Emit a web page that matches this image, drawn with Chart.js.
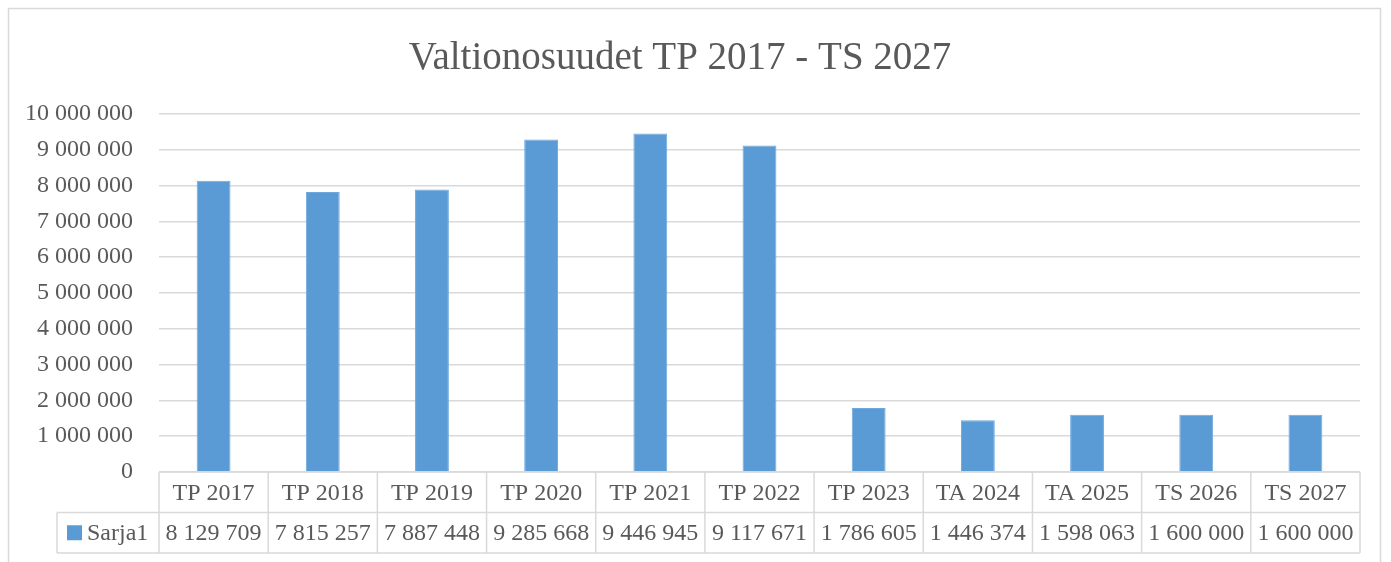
<!DOCTYPE html>
<html>
<head>
<meta charset="utf-8">
<script src="https://cdn.jsdelivr.net/npm/chart.js@4.4.1/dist/chart.umd.min.js"></script>
<style>
  html, body { margin: 0; padding: 0; background: #fff; }
  #wrap { position: absolute; left: 0; top: 0; width: 1391px; height: 562px; }
</style>
</head>
<body>
<div id="wrap"><canvas id="chart" width="1391" height="562"></canvas></div>
<script>
// Data
const categories = ['TP 2017', 'TP 2018', 'TP 2019', 'TP 2020', 'TP 2021', 'TP 2022',
                    'TP 2023', 'TA 2024', 'TA 2025', 'TS 2026', 'TS 2027'];
const seriesName = 'Sarja1';
const seriesValues = [8129709, 7815257, 7887448, 9285668, 9446945, 9117671,
                      1786605, 1446374, 1598063, 1600000, 1600000];
const yMax = 10000000;
const yStep = 1000000;

const textColor = '#595959';
const lineColor = '#d9d9d9';
const barColor = '#5b9bd5';
const fontFamily = '"Liberation Serif", "DejaVu Serif", serif';

// Numero välilyönnein: 8 129 709
function formatNumber(n) {
    return String(n).replace(/\B(?=(\d{3})+(?!\d))/g, ' ');
}

// Kehys + datataulukko kaavion alle
const dataTablePlugin = {
    id: 'dataTable',
    beforeDraw(chart) {
        const ctx = chart.ctx;
        ctx.save();
        ctx.strokeStyle = lineColor;
        ctx.lineWidth = 1.5;
        ctx.strokeRect(8.5, 8.5, 1372, 600);
        ctx.restore();
    },
    afterDraw(chart) {
        const ctx = chart.ctx;
        const area = chart.chartArea;
        const n = categories.length;
        const colW = (area.right - area.left) / n;
        const top = area.bottom;
        const rowH = 40.5;
        const legendLeft = 57;

        ctx.save();
        ctx.strokeStyle = lineColor;
        ctx.lineWidth = 1.5;

        // vaakaviivat
        ctx.beginPath();
        ctx.moveTo(area.left, top);
        ctx.lineTo(area.right, top);
        ctx.moveTo(legendLeft, top + rowH);
        ctx.lineTo(area.right, top + rowH);
        ctx.moveTo(legendLeft, top + 2 * rowH);
        ctx.lineTo(area.right, top + 2 * rowH);
        // pystyviivat
        for (let i = 0; i <= n; i++) {
            const x = area.left + i * colW;
            ctx.moveTo(x, top);
            ctx.lineTo(x, top + 2 * rowH);
        }
        ctx.moveTo(legendLeft, top + rowH);
        ctx.lineTo(legendLeft, top + 2 * rowH);
        ctx.stroke();

        // tekstit
        ctx.fillStyle = textColor;
        ctx.font = '24px ' + fontFamily;
        ctx.textAlign = 'center';
        ctx.textBaseline = 'middle';
        for (let i = 0; i < n; i++) {
            const cx = area.left + (i + 0.5) * colW;
            ctx.fillText(categories[i], cx, top + rowH / 2 + 1);
            ctx.fillText(formatNumber(seriesValues[i]), cx, top + rowH * 1.5 + 1);
        }

        // selite
        ctx.fillStyle = barColor;
        ctx.fillRect(legendLeft + 10, top + rowH * 1.5 - 7.5, 15, 15);
        ctx.fillStyle = textColor;
        ctx.textAlign = 'left';
        ctx.fillText(seriesName, legendLeft + 30, top + rowH * 1.5 + 1);
        ctx.restore();
    }
};

const ctx = document.getElementById('chart').getContext('2d');
new Chart(ctx, {
    type: 'bar',
    data: {
        labels: categories,
        datasets: [{
            label: seriesName,
            data: seriesValues,
            backgroundColor: barColor,
            borderColor: '#6fa8dc',
            borderWidth: 1,
            barPercentage: 0.31,
            categoryPercentage: 1.0
        }]
    },
    options: {
        responsive: false,
        devicePixelRatio: 1,
        animation: false,
        layout: { padding: { left: 0, right: 31, top: 0, bottom: 0 } },
        plugins: {
            legend: { display: false },
            tooltip: { enabled: false },
            title: {
                display: true,
                text: 'Valtionosuudet TP 2017 - TS 2027',
                color: textColor,
                font: { family: fontFamily, size: 39, weight: 'normal' },
                padding: { top: 35, bottom: 32 }
            }
        },
        scales: {
            x: {
                grid: { display: false },
                border: { display: false },
                ticks: { display: false },
                afterFit(scale) { scale.height = 90; }
            },
            y: {
                min: 0,
                max: yMax,
                grid: { color: lineColor, lineWidth: 1.5, drawTicks: false },
                border: { display: false },
                ticks: {
                    stepSize: yStep,
                    color: textColor,
                    padding: 26,
                    font: { family: fontFamily, size: 24 },
                    callback: v => formatNumber(v)
                },
                afterFit(scale) { scale.width = 159; }
            }
        }
    },
    plugins: [dataTablePlugin]
});
</script>
</body>
</html>
